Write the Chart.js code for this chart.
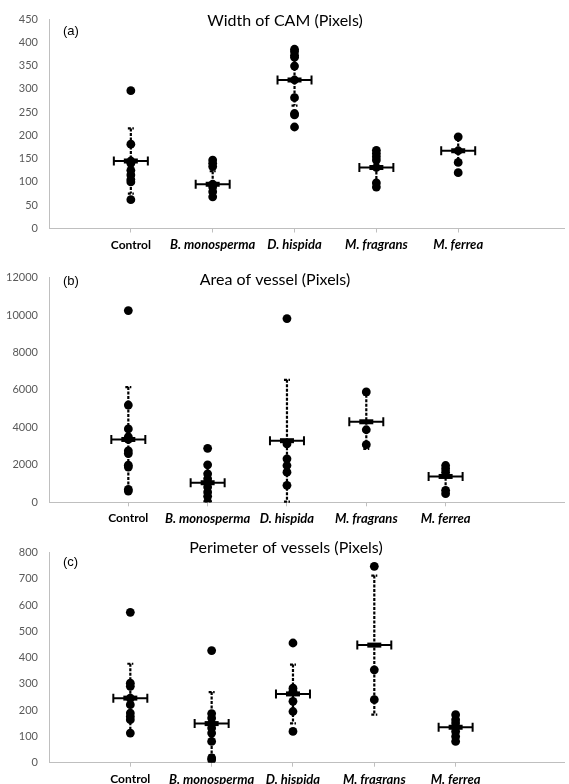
<!DOCTYPE html>
<html>
<head>
<meta charset="utf-8">
<script src="https://cdn.jsdelivr.net/npm/chart.js@4/dist/chart.umd.min.js"></script>
<style>
  html, body { margin: 0; padding: 0; background: #fff; }
  #wrap { position: relative; width: 569px; height: 784px; overflow: hidden; }
  .panel { position: absolute; left: 0; width: 569px; }
</style>
</head>
<body>
<div id="wrap">
  <div class="panel" style="top:0px;height:260px"><canvas id="cA" width="569" height="260"></canvas></div>
  <div class="panel" style="top:260px;height:270px"><canvas id="cB" width="569" height="270"></canvas></div>
  <div class="panel" style="top:530px;height:260px"><canvas id="cC" width="569" height="260"></canvas></div>
</div>
<script>
// ---------- DATA ----------
const categories = ["Control", "B. monosperma", "D. hispida", "M. fragrans", "M. ferrea"];

// (a) Width of CAM (Pixels)
const widthControl = [296, 181, 145, 140, 125, 115, 105, 100, 62];
const widthBmono   = [147, 140, 133, 95, 89, 79, 68];
const widthDhisp   = [385, 380, 372, 368, 349, 319, 281, 247, 244, 218];
const widthMfrag   = [168, 161, 154, 147, 131, 98, 89];
const widthMferr   = [197, 167, 142, 120];
const widthMeans   = [145, 95, 319, 131, 167];
const widthErrors  = [70, 28, 55, 30, 25];

// (b) Area of vessel (Pixels)
const areaControl = [10240, 5195, 3920, 3500, 3355, 2750, 2600, 1980, 1880, 690, 600];
const areaBmono   = [2885, 2000, 1520, 1255, 1045, 815, 550, 320, 20];
const areaDhisp   = [9810, 3115, 2320, 1965, 1610, 905];
const areaMfrag   = [5895, 3875, 3080];
const areaMferr   = [1965, 1790, 1610, 640, 460];
const areaMeans   = [3355, 1045, 3290, 4300, 1380];
const areaErrors  = [2800, 1000, 3250, 1450, 650];

// (c) Perimeter of vessels (Pixels)
const periControl = [573, 303, 291, 246, 221, 189, 176, 164, 113];
const periBmono   = [427, 187, 170, 149, 132, 113, 81, 18, 11];
const periDhisp   = [456, 284, 272, 234, 195, 119];
const periMfrag   = [748, 354, 240];
const periMferr   = [183, 164, 151, 135, 119, 100, 81];
const periMeans   = [246, 149, 262, 448, 135];
const periErrors  = [131, 120, 112, 265, 40];

const titleA = "Width of CAM (Pixels)";
const titleB = "Area of vessel (Pixels)";
const titleC = "Perimeter of vessels (Pixels)";

// ---------- HELPERS ----------
function toPoints(groups) {
  const pts = [];
  groups.forEach((g, i) => g.forEach(v => pts.push({ x: i + 1, y: v })));
  return pts;
}

const errorBarPlugin = {
  id: 'errorBars',
  afterDatasetsDraw(chart) {
    const o = chart.options.plugins.errorBars;
    if (!o) return;
    const { ctx } = chart;
    const xs = chart.scales.x, ys = chart.scales.y;
    ctx.save();
    ctx.strokeStyle = '#000';
    ctx.fillStyle = '#000';
    o.means.forEach((m, i) => {
      const x = xs.getPixelForValue(i + 1);
      const yM = ys.getPixelForValue(m);
      const yT = ys.getPixelForValue(m + o.errors[i]);
      const yB = ys.getPixelForValue(Math.max(0, m - o.errors[i]));
      ctx.lineWidth = 2.2;
      ctx.setLineDash([3, 1.5]);
      ctx.beginPath(); ctx.moveTo(x, yT); ctx.lineTo(x, yB); ctx.stroke();
      ctx.beginPath();
      ctx.moveTo(x - 3, yT); ctx.lineTo(x + 3, yT);
      ctx.moveTo(x - 3, yB); ctx.lineTo(x + 3, yB);
      ctx.stroke();
      ctx.setLineDash([]);
      ctx.lineWidth = 2;
      ctx.beginPath();
      ctx.moveTo(x - 17, yM); ctx.lineTo(x + 17, yM);
      ctx.moveTo(x - 17, yM - 4.5); ctx.lineTo(x - 17, yM + 4.5);
      ctx.moveTo(x + 17, yM - 4.5); ctx.lineTo(x + 17, yM + 4.5);
      ctx.stroke();
      ctx.fillRect(x - 7, yM - 2.5, 14, 5);
    });
    ctx.restore();
  }
};

const labelPlugin = {
  id: 'panelLabels',
  afterDraw(chart) {
    const o = chart.options.plugins.panelLabels;
    if (!o) return;
    const { ctx } = chart;
    ctx.save();
    ctx.fillStyle = '#000';
    ctx.textBaseline = 'middle';
    ctx.textAlign = 'center';
    ctx.font = '16px Lato';
    ctx.fillText(o.title, o.titleX, o.titleY);
    ctx.textAlign = 'left';
    ctx.font = '13px "Liberation Sans"';
    ctx.fillText(o.tag, o.tagX, o.tagY);
    ctx.restore();
  }
};

function makeChart(id, groups, means, errors, cfg) {
  return new Chart(document.getElementById(id), {
    type: 'scatter',
    data: {
      datasets: [{
        data: toPoints(groups),
        backgroundColor: '#000',
        borderColor: '#000',
        borderWidth: 0,
        pointRadius: 4.4,
        pointHoverRadius: 4.4
      }]
    },
    options: {
      responsive: false,
      animation: false,
      devicePixelRatio: 1,
      layout: { padding: { top: cfg.top, right: 0, bottom: 0, left: 0 } },
      plugins: {
        legend: { display: false },
        title: { display: false },
        tooltip: { enabled: false },
        errorBars: { means: means, errors: errors },
        panelLabels: cfg.labels
      },
      scales: {
        x: {
          type: 'linear',
          min: 0,
          max: cfg.xmax,
          afterBuildTicks: (s) => { s.ticks = categories.map((c, i) => ({ value: i + 1 })); },
          afterFit: (s) => { s.height = cfg.xh; },
          ticks: {
            autoSkip: false,
            maxRotation: 0,
            padding: 5,
            color: '#000',
            font: (c) => (c.index === 0
              ? { family: 'Lato', size: 12, weight: 'bold', style: 'normal' }
              : { family: 'Lato', size: 13, weight: 'bold', style: 'italic' }),
            callback: (v) => categories[Math.round(v) - 1]
          },
          grid: { display: true, drawOnChartArea: false, drawTicks: true, tickLength: 4, color: '#bfbfbf' },
          border: { display: true, color: '#bfbfbf', width: 1 }
        },
        y: {
          min: 0,
          max: cfg.ymax,
          afterFit: (s) => { s.width = 49; },
          ticks: {
            stepSize: cfg.step,
            padding: 11,
            color: '#595959',
            font: { family: 'Lato', size: 11 },
            callback: (v) => String(v)
          },
          grid: { display: false, drawTicks: false },
          border: { display: true, color: '#bfbfbf', width: 1 }
        }
      }
    },
    plugins: [errorBarPlugin, labelPlugin]
  });
}

makeChart('cA', [widthControl, widthBmono, widthDhisp, widthMfrag, widthMferr], widthMeans, widthErrors,
  { top: 19, xh: 260 - 228.5, xmax: 6.3, ymax: 450, step: 50,
    labels: { title: titleA, titleX: 285, titleY: 21, tag: '(a)', tagX: 63, tagY: 31 } });

makeChart('cB', [areaControl, areaBmono, areaDhisp, areaMfrag, areaMferr], areaMeans, areaErrors,
  { top: 16, xh: 270 - 242.3, xmax: 6.5, ymax: 12000, step: 2000,
    labels: { title: titleB, titleX: 275, titleY: 20, tag: '(b)', tagX: 63, tagY: 21 } });

makeChart('cC', [periControl, periBmono, periDhisp, periMfrag, periMferr], periMeans, periErrors,
  { top: 22.7, xh: 260 - 232.7, xmax: 6.34, ymax: 800, step: 100,
    labels: { title: titleC, titleX: 286, titleY: 18, tag: '(c)', tagX: 63, tagY: 32 } });
</script>
</body>
</html>
